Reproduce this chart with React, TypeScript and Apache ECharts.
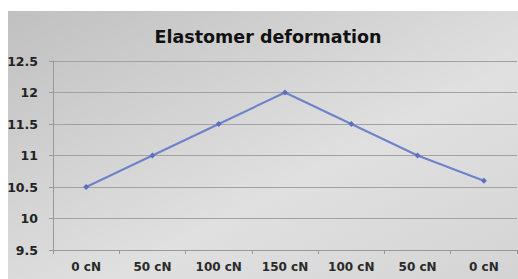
import React, { useEffect, useRef } from "react";
import * as echarts from "echarts";

const categories = ["0 cN", "50 cN", "100 cN", "150 cN", "100 cN", "50 cN", "0 cN"];
const deformation = [10.5, 11.0, 11.5, 12.0, 11.5, 11.0, 10.6];
const yMin = 9.5;
const yMax = 12.5;
const yStep = 0.5;

export default function App() {
  const ref = useRef<HTMLDivElement>(null);
  useEffect(() => {
    if (!ref.current) return;
    const chart = echarts.init(ref.current, null, { renderer: "svg" });
    chart.setOption({
      animation: false,
      graphic: [
        {
          type: "rect",
          z: -10,
          shape: { x: 8, y: 11, width: 510, height: 268 },
          style: {
            fill: new echarts.graphic.LinearGradient(0, 0, 1, 1, [
              { offset: 0, color: "#c0c0c0" },
              { offset: 0.6, color: "#e0e0e0" },
              { offset: 1, color: "#d4d4d4" },
            ]),
          },
          silent: true,
        },
      ],
      title: {
        text: "Elastomer deformation",
        left: 263,
        textAlign: "center",
        top: 23,
        textStyle: {
          fontFamily: "DejaVu Sans",
          fontWeight: "bold",
          fontSize: 17.5,
          color: "#111",
        },
      },
      grid: { left: 53, top: 61, right: 1, bottom: 29, containLabel: false },
      xAxis: {
        type: "category",
        data: categories,
        boundaryGap: true,
        axisLine: { show: true, lineStyle: { color: "#999", width: 1 } },
        axisTick: { show: true, length: 4, lineStyle: { color: "#999" } },
        axisLabel: {
          margin: 11,
          fontFamily: "DejaVu Sans",
          fontWeight: "bold",
          fontSize: 12,
          color: "#2a2a2a",
        },
      },
      yAxis: {
        type: "value",
        min: yMin,
        max: yMax,
        interval: yStep,
        axisLine: { show: true, lineStyle: { color: "#999", width: 1 } },
        axisTick: { show: true, length: 4, lineStyle: { color: "#999" } },
        splitLine: { show: true, lineStyle: { color: "#a2a2a2", width: 1 } },
        axisLabel: {
          margin: 15,
          fontFamily: "DejaVu Sans",
          fontWeight: "bold",
          fontSize: 12.5,
          color: "#222",
          formatter: (v: number) => String(v),
        },
      },
      series: [
        {
          type: "line",
          data: deformation,
          symbol: "diamond",
          symbolSize: 6,
          lineStyle: { color: "#6e82ca", width: 2 },
          itemStyle: { color: "#5b6fc0" },
        },
      ],
    });
    return () => chart.dispose();
  }, []);
  return <div ref={ref} style={{ width: 518, height: 279, position: "absolute", left: 0, top: 0 }} />;
}
